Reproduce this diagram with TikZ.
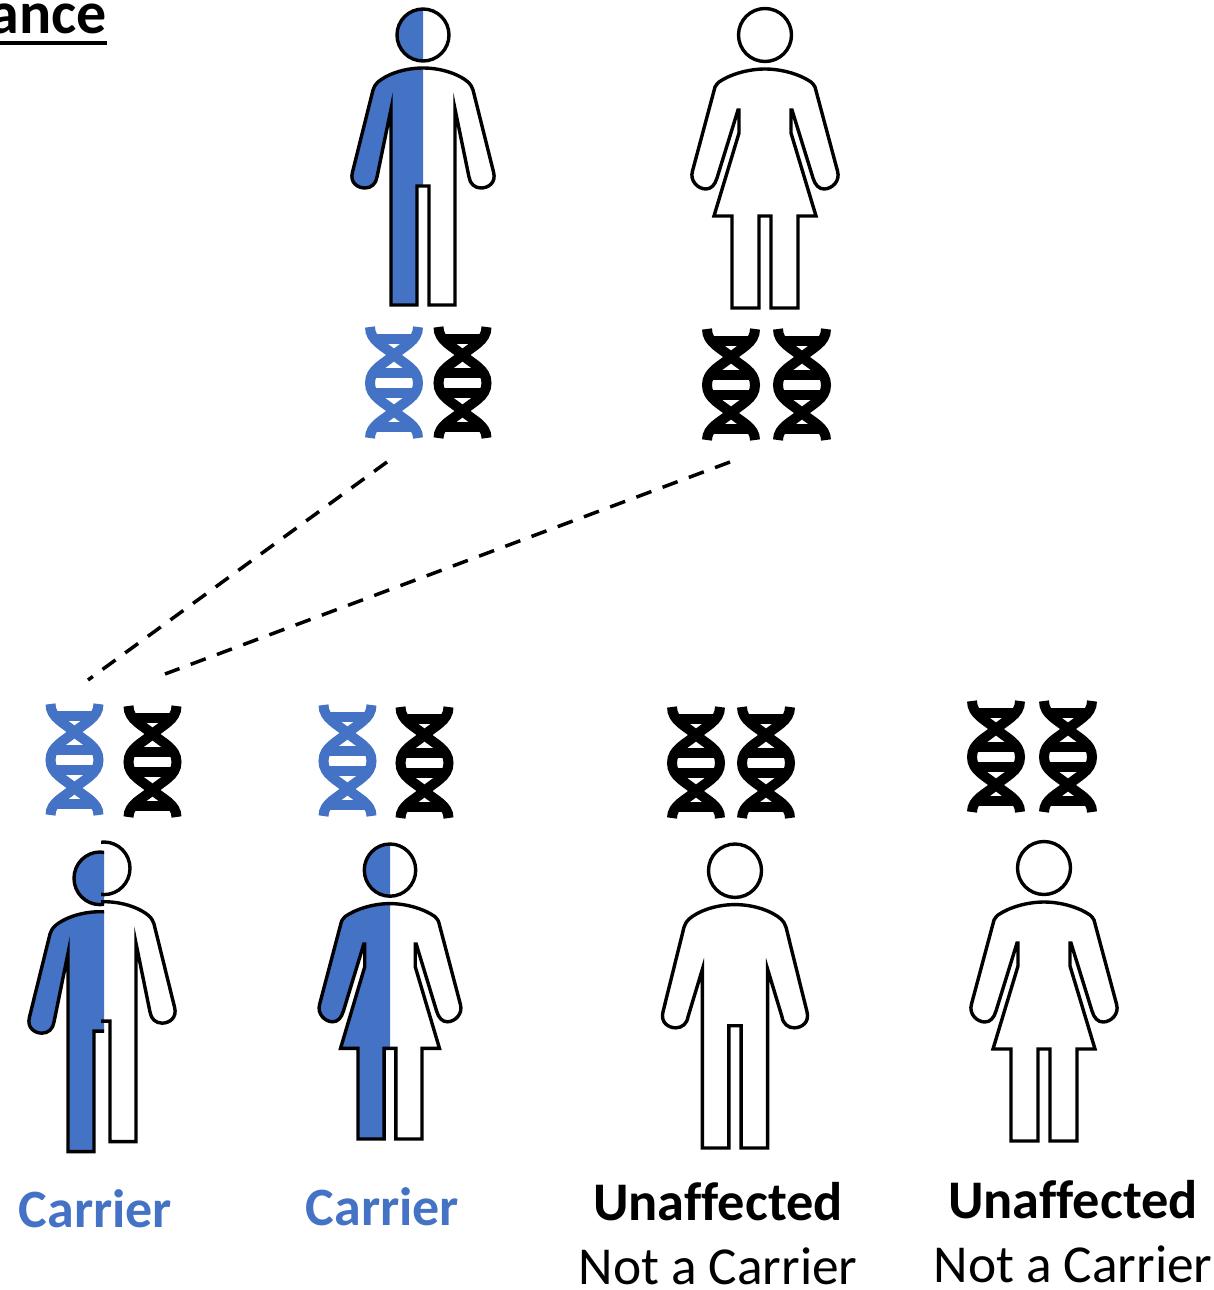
\documentclass[tikz,border=0pt]{standalone}
\usepackage{fontspec}
\setmainfont[Ligatures=NoCommon]{Carlito}

\definecolor{carrierblue}{HTML}{4472C4}

% outlines, measured in pixels from the top of the head
\newcommand{\manoutline}[1]{(0,26) circle[radius=26]
  (0,59) .. controls (-20,59) and (-37,66) .. (-45,73) .. controls (-48,76) and (-49,78) .. (-50,81)
  -- (-70.5,163) .. controls (-73.5,174) and (-65,179) .. (-58,179) .. controls (-52,179) and (-47,175) .. (-46,168)
  -- (-32,#1) -- (-32,296) -- (-6,296) -- (-6,177) -- (6,177) -- (6,296) -- (32,296) -- (32,#1)
  -- (46,168) .. controls (47,175) and (52,179) .. (58,179) .. controls (65,179) and (73.5,174) .. (70.5,163)
  -- (50,81) .. controls (49,78) and (48,76) .. (45,73) .. controls (37,66) and (20,59) .. (0,59) -- cycle}
\newcommand{\womanoutline}{(0,27) circle[radius=26.5]
  (0,61) .. controls (-18,61) and (-36,67) .. (-46,74) .. controls (-48,76) and (-49,77) .. (-50,79)
  -- (-72.5,163) .. controls (-75.5,173) and (-67,181) .. (-59,181) .. controls (-54,181) and (-50,177) .. (-48,170)
  -- (-27,102) -- (-26,102) -- (-26,125) -- (-51,208) -- (-33,208) -- (-33,300) -- (-6,300) -- (-6,208)
  -- (6,208) -- (6,300) -- (33,300) -- (33,208) -- (51,208) -- (26,125) -- (26,102) -- (27,102)
  -- (48,170) .. controls (50,177) and (54,181) .. (59,181) .. controls (67,181) and (75.5,173) .. (72.5,163)
  -- (50,79) .. controls (49,77) and (48,76) .. (46,74) .. controls (36,67) and (18,61) .. (0,61) -- cycle}

\tikzset{
  figure line/.style={line width=1.7pt},
  inherit line/.style={line width=1.75pt,dash pattern=on 8pt off 6pt},
  dna strand/.style={line width=5pt},
  dna rung/.style={line width=4.6pt},
  carrier label/.style={font=\bfseries\fontsize{27}{27}\selectfont,text=carrierblue,anchor=base,inner sep=0pt},
  status label/.style={font=\bfseries\fontsize{27.2}{27.2}\selectfont,anchor=base,inner sep=0pt},
  plain label/.style={font=\fontsize{26.7}{26.7}\selectfont,anchor=base,inner sep=0pt},
  dna/.pic={
    \path[dna strand,pic actions] (-24,0) .. controls (-24,14) and (-10,19) .. (0,28)
      .. controls (10,37) and (24,42) .. (24,56) .. controls (24,70) and (10,75) .. (0,84)
      .. controls (-10,93) and (-24,98) .. (-24,111);
    \path[dna strand,pic actions] (24,0) .. controls (24,14) and (10,19) .. (0,28)
      .. controls (-10,37) and (-24,42) .. (-24,56) .. controls (-24,70) and (-10,75) .. (0,84)
      .. controls (10,93) and (24,98) .. (24,111);
    \path[dna rung,pic actions] (-19,12) -- (19,12) (-22,46) -- (22,46) (-22,66) -- (22,66) (-19,100) -- (19,100);
  },
  man/.pic={\draw[figure line] \manoutline{122};},
  woman/.pic={\draw[figure line] \womanoutline;},
  carrier man/.pic={
    \begin{scope}
      \clip (-100,-5) rectangle (0,320);
      \fill[carrierblue] \manoutline{100};
    \end{scope}
    \draw[figure line] \manoutline{100};
  },
  carrier woman/.pic={
    \begin{scope}
      \clip (-100,-5) rectangle (0,320);
      \fill[carrierblue] \womanoutline;
    \end{scope}
    \draw[figure line] \womanoutline;
  },
  split man left/.pic={
    \clip (-100,-5) rectangle (4,320);
    \fill[carrierblue] \manoutline{100};
    \draw[figure line] \manoutline{100};
  },
  split man right/.pic={
    \clip (-3,-5) rectangle (100,320);
    \draw[figure line] \manoutline{100};
  },
}

\begin{document}
\begin{tikzpicture}[x=0.5pt,y=-0.5pt]
  \useasboundingbox (0,0) rectangle (1214,1290);

  % title remainder
  \node[status label,font=\bfseries\fontsize{30}{30}\selectfont,anchor=base east] (title) at (107,33) {ance};
  \coordinate (titlestart) at (0,43);
  \coordinate (titleend) at (107,43);
  \draw[line width=1.8pt] (titlestart) -- (titleend);

  % parents
  \pic at (423,9) {carrier man};
  \pic at (765,8) {woman};
  \pic[draw=carrierblue] at (394,327) {dna};
  \pic[draw=black] at (462.5,327) {dna};
  \pic[draw=black] at (731,329) {dna};
  \pic[draw=black] at (802,329) {dna};

  % children
  \pic[draw=carrierblue] at (74.5,704) {dna};
  \pic[draw=black] at (152.5,706) {dna};
  \pic[draw=carrierblue] at (347.5,705) {dna};
  \pic[draw=black] at (424.5,707) {dna};
  \pic[draw=black] at (696,707) {dna};
  \pic[draw=black] at (766,707) {dna};
  \pic[draw=black] at (996,701) {dna};
  \pic[draw=black] at (1068,701) {dna};

  \pic[yscale=1.012] at (100,852) {split man left};
  \pic[yscale=1.012] at (104,842) {split man right};
  \pic[xscale=0.97,yscale=0.985] at (390,843.5) {carrier woman};
  \pic[xscale=1.02,yscale=1.027] at (735,844) {man};
  \pic at (1044,841) {woman};

  % inheritance lines
  \coordinate (fathergene) at (387,462);
  \coordinate (mothergene) at (730,462);
  \coordinate (songene) at (88,680);
  \coordinate (sonother) at (165,674);
  \draw[inherit line] (fathergene) -- (songene);
  \draw[inherit line] (mothergene) -- (sonother);

  % labels
  \node[carrier label] (carrier1) at (95.5,1227) {Carrier};
  \node[carrier label] (carrier2) at (382.5,1225) {Carrier};
  \node[status label] (unaffected1) at (718,1220) {Unaffected};
  \node[plain label] (notcarrier1) at (718,1284) {Not a Carrier};
  \node[status label] (unaffected2) at (1073,1218) {Unaffected};
  \node[plain label] (notcarrier2) at (1073,1282) {Not a Carrier};
\end{tikzpicture}
\end{document}
